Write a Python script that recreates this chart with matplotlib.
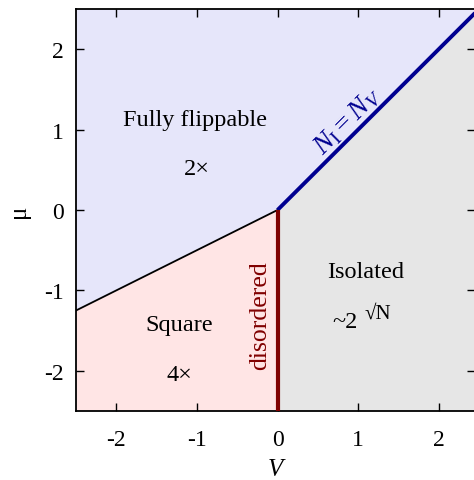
import numpy as np
import matplotlib
matplotlib.use("Agg")
import matplotlib.pyplot as plt

plt.rcParams['font.family'] = ['Liberation Serif', 'DejaVu Serif']
plt.rcParams['mathtext.fontset'] = 'custom'
plt.rcParams['mathtext.rm'] = 'Liberation Serif'
plt.rcParams['mathtext.it'] = 'Liberation Serif:italic'

# boundaries
V_left = [-2.5, 0.0]          # black boundary: mu = V/2
mu_left = [-1.25, 0.0]
V_diag = [0.0, 2.5]           # blue boundary: mu = V
mu_diag = [0.0, 2.5]
V_vert = [0.0, 0.0]           # red boundary at V=0
mu_vert = [-2.5, 0.0]
xticks = [-2, -1, 0, 1, 2]
yticks = [-2, -1, 0, 1, 2]

W, H = 474, 481
fig = plt.figure(figsize=(W/100, H/100), dpi=100)
ax = fig.add_axes([76/W, 1-412/H, 399/W, 402/H])
xmin, xmax = -2.5, 2.45
ymin, ymax = -2.5, 2.5

c_blue = '#e6e6fa'
c_pink = '#ffe5e5'
c_grey = '#e6e6e6'

ax.fill([xmin, 0, xmax, xmax, xmin], [-1.25, 0, xmax, ymax, ymax], color=c_blue, lw=0, zorder=0)
ax.fill([xmin, 0, 0, xmin], [-1.25, 0, ymin, ymin], color=c_pink, lw=0, zorder=0)
ax.fill([0, xmax, xmax, 0], [0, xmax, ymin, ymin], color=c_grey, lw=0, zorder=0)

ax.plot(V_left, mu_left, color='black', lw=1.3, zorder=2)
ax.plot(V_diag, mu_diag, color='#000090', lw=2.8, zorder=3, solid_capstyle='butt')
ax.plot(V_vert, mu_vert, color='#800000', lw=3.0, zorder=3, solid_capstyle='butt')

ax.set_xlim(xmin, xmax)
ax.set_ylim(ymin, ymax)
ax.set_xticks(xticks)
ax.set_yticks(yticks)
ax.set_xticklabels([f'{t}' for t in xticks])
ax.set_yticklabels([f'{t}' for t in yticks])
ax.tick_params(axis='both', direction='in', top=True, right=True, length=6, width=1, labelsize=17)
ax.tick_params(axis='x', pad=13)
ax.tick_params(axis='y', pad=9)
for s in ax.spines.values():
    s.set_linewidth(1.3)

ax.set_xlabel('V', fontsize=18, style='italic', labelpad=6)
ax.set_ylabel('μ', fontsize=18, labelpad=10)

fs = 17.5
ax.text(-1.02, 1.13, 'Fully flippable', fontsize=fs, ha='center', va='center')
ax.text(-1.0, 0.52, '2×', fontsize=fs, ha='center', va='center')
ax.text(-1.22, -1.43, 'Square', fontsize=fs, ha='center', va='center')
ax.text(-1.22, -2.05, '4×', fontsize=fs, ha='center', va='center')
ax.text(1.09, -0.77, 'Isolated', fontsize=fs, ha='center', va='center')
ax.text(0.84, -1.39, '~2', fontsize=fs, ha='center', va='center')
ax.text(1.25, -1.28, '√N', fontsize=15, ha='center', va='center')
ax.text(-0.21, -1.3, 'disordered', fontsize=18.5, ha='center', va='center',
        rotation=90, color='#800000')
ax.text(0.87, 1.11, r'$N_{\mathrm{I}} = N_V$', fontsize=20, ha='center', va='center',
        rotation=45, rotation_mode='anchor', color='#000090')

fig.savefig('out.png', dpi=100)
